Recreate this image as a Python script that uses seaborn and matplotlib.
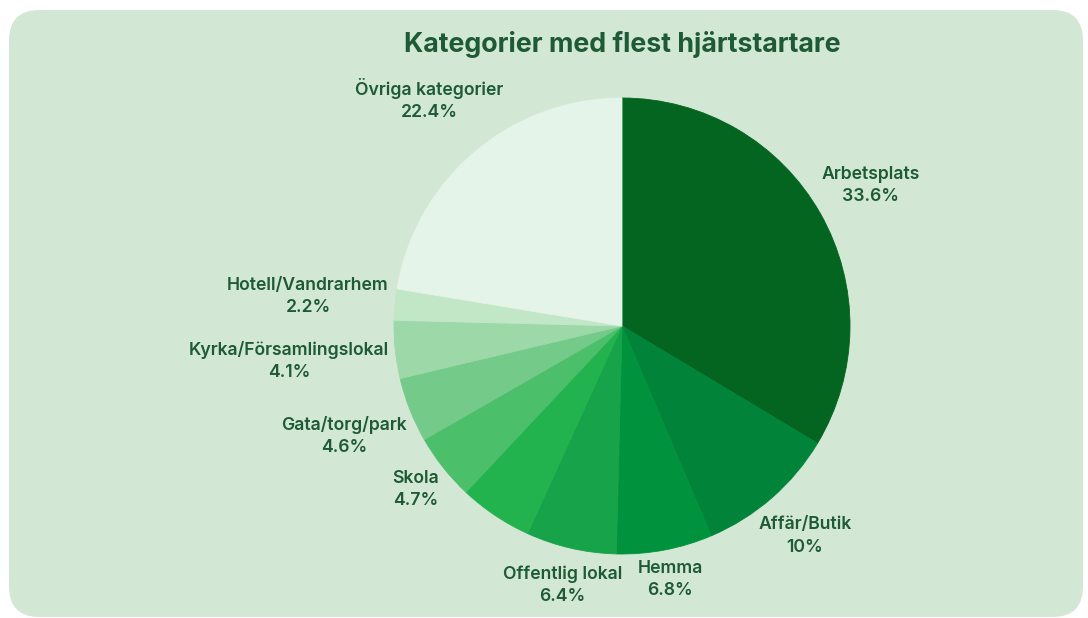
import numpy as np
import matplotlib
matplotlib.use("Agg")
import matplotlib.pyplot as plt
from matplotlib.patches import FancyBboxPatch
import seaborn as sns

# ---- data ----
categories = ["Arbetsplats", "Affär/Butik", "Hemma", "Offentlig lokal", "",
              "Skola", "Gata/torg/park", "Kyrka/Församlingslokal",
              "Hotell/Vandrarhem", "Övriga kategorier"]
values = [33.6, 10, 6.8, 6.4, 5.2, 4.7, 4.6, 4.1, 2.2, 22.4]
colors = ["#03651f", "#01843a", "#01923d", "#17a34a", "#22b24e",
          "#4cbf6b", "#74ca89", "#9dd8a8", "#c2e7c7", "#e5f4e9"]
title = "Kategorier med flest hjärtstartare"

sns.set_theme(style="white")
plt.rcParams["font.family"] = ["Inter", "DejaVu Sans"]

W, H = 1088, 618
fig = plt.figure(figsize=(W / 100, H / 100), dpi=100)
fig.patch.set_facecolor("white")

card = FancyBboxPatch((9 / W, 1 / H), (1083 - 9) / W, (608 - 1) / H,
                      boxstyle="round,pad=0,rounding_size=0.028",
                      transform=fig.transFigure, facecolor="#d3e8d4",
                      edgecolor="none", mutation_aspect=W / H, zorder=-10)
fig.patches.append(card)

text_color = "#1d5a35"
fig.text(622 / W, 1 - 45 / H, title, ha="center", va="center",
         fontsize=19.3, fontweight="bold", color=text_color)

cx, cy, R = 622, 326, 228
ax = fig.add_axes([(cx - R) / W, (H - cy - R) / H, 2 * R / W, 2 * R / H])
ax.set_zorder(5)
ax.patch.set_alpha(0)
wedges, _ = ax.pie(values, colors=colors, startangle=90, counterclock=False,
                   radius=1, wedgeprops=dict(linewidth=0.6, antialiased=True))
for w, c in zip(wedges, colors):
    w.set_edgecolor(c)
ax.set_xlim(-1, 1)
ax.set_ylim(-1, 1)
ax.set_aspect("equal")
ax.axis("off")

fig.canvas.draw()
renderer = fig.canvas.get_renderer()
px_per_unit = R  # one data unit = R pixels
gap = 5 / px_per_unit
for w, cat, v in zip(wedges, categories, values):
    if not cat:
        continue
    ang = np.deg2rad((w.theta1 + w.theta2) / 2)
    ca, sa = np.cos(ang), np.sin(ang)
    t = ax.text(0, 0, f"{cat}\n{v:g}%", ha="center", va="center",
                fontsize=12.7, fontweight="semibold", color=text_color,
                linespacing=1.4, clip_on=False)
    bb = t.get_window_extent(renderer)
    hw = bb.width / 2 / px_per_unit
    hh = bb.height / 2 / px_per_unit
    ext = hw * abs(ca) + hh * abs(sa)
    d = 1 + gap + ext
    t.set_position((d * ca, d * sa))

fig.savefig("out.png", dpi=100, facecolor=fig.get_facecolor())
